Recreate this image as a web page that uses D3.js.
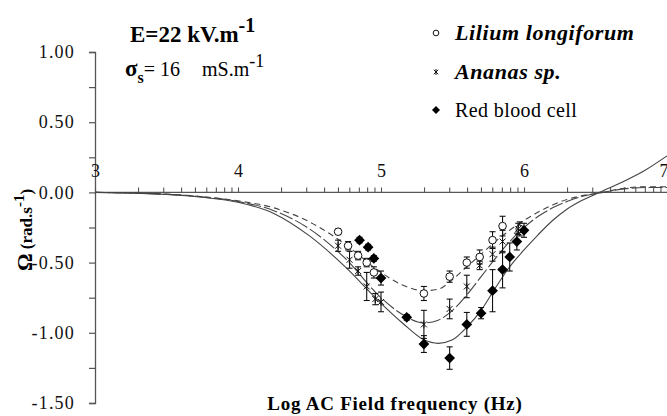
<!DOCTYPE html>
<html>
<head>
<meta charset="utf-8">
<script src="https://cdn.jsdelivr.net/npm/d3@7"></script>
<style>
  body { margin: 0; background: #fff; }
  text { font-family: "Liberation Serif", "Times New Roman", "DejaVu Serif", serif; }
</style>
</head>
<body>
<div id="chart"></div>
<script>
// measured points (log10 of frequency, rotation rate in rad/s)
const liliumX = [4.70, 4.77, 4.84, 4.90, 4.95, 5.30, 5.48, 5.60, 5.69, 5.78, 5.85, 5.97];
const liliumY = [-0.28, -0.38, -0.45, -0.50, -0.57, -0.72, -0.60, -0.50, -0.46, -0.34, -0.24, -0.26];
const liliumErr = [0.02, 0.03, 0.03, 0.03, 0.04, 0.05, 0.04, 0.04, 0.05, 0.06, 0.07, 0.05];

const ananasX = [4.70, 4.78, 4.84, 4.90, 4.96, 5.00, 5.30, 5.48, 5.60, 5.69, 5.78, 5.85, 5.96];
const ananasY = [-0.38, -0.48, -0.56, -0.67, -0.76, -0.78, -0.94, -0.83, -0.67, -0.52, -0.44, -0.35, -0.26];
const ananasErr = [0.04, 0.06, 0.03, 0.10, 0.04, 0.07, 0.10, 0.07, 0.08, 0.03, 0.05, 0.08, 0.04];

const rbcX = [4.85, 4.91, 4.95, 5.00, 5.18, 5.30, 5.48, 5.60, 5.70, 5.78, 5.85, 5.90, 5.95, 6.00];
const rbcY = [-0.34, -0.39, -0.47, -0.61, -0.89, -1.08, -1.18, -0.94, -0.86, -0.70, -0.55, -0.46, -0.35, -0.27];
const rbcErr = [0.02, 0.02, 0.02, 0.05, 0.02, 0.06, 0.08, 0.085, 0.04, 0.15, 0.13, 0.10, 0.06, 0.05];

// fitted curves
const fitX = [3.0, 3.25, 3.5, 3.75, 4.0, 4.25, 4.5, 4.75, 5.0, 5.15, 5.3, 5.4, 5.5, 5.6, 5.7, 5.8, 5.9, 6.0, 6.1, 6.2, 6.3, 6.4, 6.55, 6.7, 6.85, 7.0];
const liliumFit = [0, -0.004, -0.012, -0.03, -0.06, -0.11, -0.21, -0.37, -0.57, -0.66, -0.70, -0.69, -0.62, -0.53, -0.44, -0.35, -0.27, -0.20, -0.14, -0.09, -0.05, -0.025, 0.0, 0.03, 0.04, 0.04];
const ananasFit = [0, -0.004, -0.013, -0.032, -0.065, -0.13, -0.26, -0.47, -0.75, -0.87, -0.93, -0.91, -0.84, -0.73, -0.60, -0.47, -0.35, -0.25, -0.17, -0.11, -0.065, -0.03, 0.0, 0.025, 0.035, 0.035];
const rbcFit = [0, -0.005, -0.015, -0.035, -0.07, -0.15, -0.31, -0.53, -0.79, -0.93, -1.05, -1.075, -1.05, -0.96, -0.84, -0.68, -0.53, -0.41, -0.30, -0.20, -0.12, -0.06, 0.01, 0.08, 0.16, 0.26];

const xTicks = [3, 4, 5, 6, 7];
const yTicks = [1.0, 0.5, 0.0, -0.5, -1.0, -1.5];
const legendNames = ['Lilium longiforum', 'Ananas sp.', 'Red blood cell'];

const width = 667, height = 416;
const serif = '"Liberation Serif", "Times New Roman", "DejaVu Serif", serif';

const svg = d3.select('#chart').append('svg')
  .attr('width', width)
  .attr('height', height)
  .attr('font-family', serif);

const x = d3.scaleLinear().domain([3, 7]).range([95, 667]);
const y = d3.scaleLinear().domain([-1.5, 1.0]).range([403, 52]);

const axisColor = '#555';

// y axis
const yAxis = d3.axisLeft(y)
  .tickValues(d3.range(-1.5, 1.01, 0.25))
  .tickSize(6)
  .tickFormat(d => yTicks.some(t => Math.abs(t - d) < 1e-9) ? d.toFixed(2) : '');

const yG = svg.append('g')
  .attr('transform', `translate(${x(3)},0)`)
  .call(yAxis)
  .attr('font-family', serif);
yG.select('.domain').attr('stroke', axisColor).attr('stroke-width', 1.3);
yG.selectAll('.tick line').attr('stroke', axisColor).attr('stroke-width', 1.2);
yG.selectAll('.tick text')
  .attr('x', -20)
  .style('font-family', serif)
  .style('font-size', '18px')
  .style('letter-spacing', '1.2px')
  .attr('fill', '#111');

// x axis on the zero line, log minor ticks pointing up
const minor = [];
xTicks.slice(0, -1).forEach(d => {
  for (let k = 2; k <= 9; k++) minor.push(d + Math.log10(k));
});

const xAxis = d3.axisTop(x)
  .tickValues(xTicks.concat(minor))
  .tickSize(5)
  .tickFormat(d => xTicks.includes(d) ? String(d) : '');

const xG = svg.append('g')
  .attr('transform', `translate(0,${y(0)})`)
  .call(xAxis)
  .attr('font-family', serif);
xG.select('.domain').attr('stroke', axisColor).attr('stroke-width', 1.3)
  .attr('d', `M${x(3)},0H${x(7)}`);
xG.selectAll('.tick line').attr('stroke', axisColor).attr('stroke-width', 1.1);
xG.selectAll('.tick text')
  .attr('y', -15)
  .style('font-family', serif)
  .style('font-size', '18px')
  .attr('fill', '#111')
  .filter(d => d === 7)
  .attr('text-anchor', 'end')
  .attr('dx', 1);

// fitted curves
const line = d3.line()
  .x(d => x(d[0]))
  .y(d => y(d[1]))
  .curve(d3.curveMonotoneX);

const fits = [
  { values: liliumFit, dash: '6,4' },
  { values: ananasFit, dash: '14,3' },
  { values: rbcFit, dash: null }
];

svg.append('g').attr('class', 'fits')
  .selectAll('path')
  .data(fits)
  .join('path')
  .attr('d', f => line(fitX.map((v, i) => [v, f.values[i]])))
  .attr('fill', 'none')
  .attr('stroke', '#444')
  .attr('stroke-width', 1.1)
  .attr('stroke-dasharray', f => f.dash);

// series with error bars
const series = [
  { name: 'lilium', xs: liliumX, ys: liliumY, err: liliumErr },
  { name: 'ananas', xs: ananasX, ys: ananasY, err: ananasErr },
  { name: 'rbc', xs: rbcX, ys: rbcY, err: rbcErr }
];

const asteriskPath = s => `M${-s},${-s}L${s},${s}M${-s},${s}L${s},${-s}M0,${-s * 1.3}L0,${s * 1.3}`;

function drawMarker(g, name, scale) {
  if (name === 'lilium') {
    g.append('circle')
      .attr('r', 3.8 * scale)
      .attr('fill', '#fff')
      .attr('stroke', '#111')
      .attr('stroke-width', 1);
  } else if (name === 'ananas') {
    g.append('path')
      .attr('d', asteriskPath(3 * scale))
      .attr('stroke', '#111')
      .attr('stroke-width', 1)
      .attr('fill', 'none');
  } else {
    g.append('path')
      .attr('d', d3.symbol(d3.symbolSquare, 58 * scale * scale)())
      .attr('transform', 'rotate(45)')
      .attr('fill', '#000');
  }
}

series.forEach(s => {
  const pts = s.xs.map((v, i) => ({ x: v, y: s.ys[i], e: s.err[i] }));
  const g = svg.append('g').attr('class', s.name);

  const bars = g.selectAll('.err')
    .data(pts)
    .join('g')
    .attr('class', 'err')
    .attr('stroke', '#111')
    .attr('stroke-width', 1.1);
  bars.append('line')
    .attr('x1', d => x(d.x)).attr('x2', d => x(d.x))
    .attr('y1', d => y(d.y + d.e)).attr('y2', d => y(d.y - d.e));
  bars.append('line')
    .attr('x1', d => x(d.x) - 3).attr('x2', d => x(d.x) + 3)
    .attr('y1', d => y(d.y + d.e)).attr('y2', d => y(d.y + d.e));
  bars.append('line')
    .attr('x1', d => x(d.x) - 3).attr('x2', d => x(d.x) + 3)
    .attr('y1', d => y(d.y - d.e)).attr('y2', d => y(d.y - d.e));

  g.selectAll('.pt')
    .data(pts)
    .join('g')
    .attr('class', 'pt')
    .attr('transform', d => `translate(${x(d.x)},${y(d.y)})`)
    .each(function() { drawMarker(d3.select(this), s.name, 1); });
});

// legend
const legendMarkY = [33, 72, 110];
const legendTextY = [40, 79, 117];
const legend = svg.append('g').attr('class', 'legend');
series.forEach((s, i) => {
  const m = legend.append('g').attr('transform', `translate(436,${legendMarkY[i]})`);
  drawMarker(m, s.name, 0.75);
  legend.append('text')
    .attr('x', 455)
    .attr('y', legendTextY[i])
    .style('font-size', i < 2 ? '22px' : '20px')
    .style('font-weight', i < 2 ? 'bold' : 'normal')
    .style('font-style', i < 2 ? 'italic' : 'normal')
    .style('letter-spacing', i < 2 ? '0.6px' : '0.4px')
    .attr('fill', '#000')
    .text(legendNames[i]);
});

// annotations
const eText = svg.append('text')
  .attr('x', 130).attr('y', 42)
  .style('font-size', '23px').style('font-weight', 'bold');
eText.append('tspan').text('E=22 kV.m');
eText.append('tspan').attr('dy', -10).style('font-size', '20px').text('-1');

const sText = svg.append('text')
  .attr('x', 125).attr('y', 76)
  .style('font-size', '20px');
sText.append('tspan').style('font-weight', 'bold').style('font-size', '23px').text('σ');
sText.append('tspan').attr('dy', 7).style('font-weight', 'bold').style('font-size', '16px').text('s');
sText.append('tspan').attr('dy', -7).text('= 16');
sText.append('tspan').attr('x', 202).text('mS.m');
sText.append('tspan').attr('dy', -9).style('font-size', '18px').text('-1');

// axis titles
const yLab = svg.append('text')
  .attr('transform', 'translate(32,271) rotate(-90)')
  .style('font-weight', 'bold')
  .style('font-size', '17px');
yLab.append('tspan').style('font-size', '22px').text('Ω');
yLab.append('tspan').text(' (rad.s');
yLab.append('tspan').attr('dy', -8).style('font-size', '15px').text('-1');
yLab.append('tspan').attr('dy', 8).text(')');

svg.append('text')
  .attr('x', 395).attr('y', 410)
  .attr('text-anchor', 'middle')
  .style('font-weight', 'bold')
  .style('font-size', '19px')
  .style('letter-spacing', '0.75px')
  .text('Log AC Field frequency (Hz)');
</script>
</body>
</html>
